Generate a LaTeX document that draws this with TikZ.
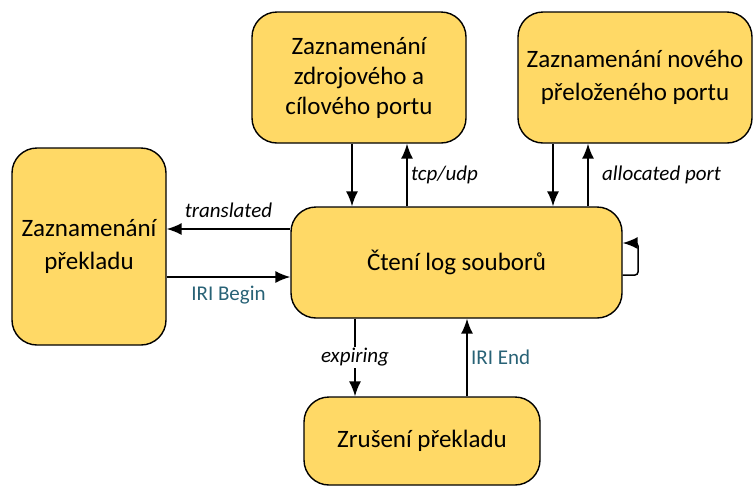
\documentclass[tikz,border=0pt]{standalone}
\usepackage{fontspec}
\setmainfont{Carlito}
\usepackage{tikz}
\usetikzlibrary{arrows.meta}
\definecolor{boxyellow}{RGB}{255,217,102}
\definecolor{iriteal}{RGB}{40,98,118}
\tikzset{
  stav/.style={draw=black, line width=1.4pt, fill=boxyellow, rounded corners=25pt,
    align=center, font=\fontsize{25}{33}\selectfont, inner sep=0pt},
  popis/.style={font=\fontsize{21}{24}\selectfont\itshape},
  iri/.style={font=\fontsize{21}{24}\selectfont, text=iriteal},
  >={Latex[length=15pt,width=12pt]}
}
\begin{document}
\begin{tikzpicture}[x=1pt,y=-1pt,line width=1.5pt]
\useasboundingbox (0,0) rectangle (755,488);
\node[stav, minimum width=214pt, minimum height=131pt, font=\fontsize{25}{30}\selectfont] (porty) at (359,77.5) {Zaznamenání\\zdrojového a\\cílového portu};
\node[stav, minimum width=234pt, minimum height=131pt] (novy) at (635,77.5) {Zaznamenání nového\\přeloženého portu};
\node[stav, minimum width=154pt, minimum height=197pt] (preklad) at (89,246.5) {Zaznamenání\\překladu};
\node[stav, minimum width=331pt, minimum height=111pt] (cteni) at (456.5,262.5) {Čtení log souborů};
\node[stav, minimum width=236pt, minimum height=88pt] (zruseni) at (422,441) {Zrušení překladu};
% horni sipky
\draw[->] (porty.south -| 352,0) -- (cteni.north -| 352,0);
\draw[->] (cteni.north -| 407,0) -- node[popis, right] {tcp/udp} (porty.south -| 407,0);
\draw[->] (novy.south -| 553,0) -- (cteni.north -| 553,0);
\draw[->] (cteni.north -| 588,0) -- node[popis, right, xshift=10pt] {allocated port} (novy.south -| 588,0);
% leve sipky
\draw[->] (cteni.west |- 0,229) -- node[popis, above, yshift=7pt] {translated} (preklad.east |- 0,229);
\draw[->] (preklad.east |- 0,277) -- node[iri, below, yshift=-5pt] {IRI Begin} (cteni.west |- 0,277);
% dolni sipky
\draw[->] (cteni.south -| 355,0) -- node[popis, fill=white, inner sep=1pt] {expiring} (zruseni.north -| 355,0);
\draw[->] (zruseni.north -| 467,0) -- node[iri, right] {IRI End} (cteni.south -| 467,0);
% smycka
\draw[->, rounded corners=3pt] (cteni.east |- 0,275) -- (638,275) -- (638,243) -- (cteni.east |- 0,243);
\end{tikzpicture}
\end{document}
